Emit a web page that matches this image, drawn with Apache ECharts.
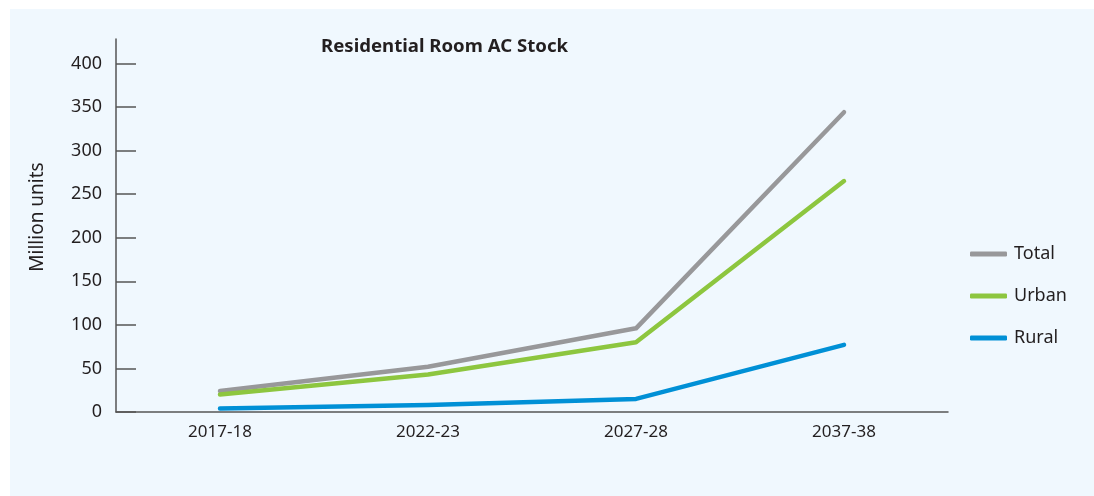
<!DOCTYPE html>
<html>
<head>
<meta charset="utf-8">
<script src="https://cdn.jsdelivr.net/npm/echarts@6/dist/echarts.min.js"></script>
<style>
html,body{margin:0;padding:0;background:#ffffff;}
#panel{position:absolute;left:10px;top:9px;width:1084px;height:487px;background:#f0f8fe;}
#chart{position:absolute;left:0;top:0;width:1094px;height:496px;}
</style>
</head>
<body>
<div id="panel"></div>
<div id="chart"></div>
<script>
const categories = ['2017-18', '2022-23', '2027-28', '2037-38'];
const totalValues = [24, 52, 96, 344];
const urbanValues = [20, 43, 80, 265];
const ruralValues = [4, 8, 15, 77];
const yTicks = [0, 50, 100, 150, 200, 250, 300, 350, 400];

const FONT = '"Noto Sans", "Open Sans", sans-serif';
const chart = echarts.init(document.getElementById('chart'), null, {renderer: 'canvas'});
const mk = (name, data, color) => ({
  name, type: 'line', data, symbol: 'none', smooth: false,
  lineStyle: {color, width: 4.5, cap: 'round', join: 'round'},
  itemStyle: {color}
});
chart.setOption({
  backgroundColor: 'transparent',
  animation: false,
  title: {
    text: 'Residential Room AC Stock', left: 316, top: 32,
    textStyle: {fontFamily: FONT, fontSize: 18.6, fontWeight: 'bold', color: '#231f20'}
  },
  legend: {
    orient: 'vertical', left: 965, top: 240, itemGap: 24,
    itemWidth: 37, itemHeight: 5,
    icon: 'roundRect',
    data: ['Total', 'Urban', 'Rural'],
    textStyle: {fontFamily: FONT, fontSize: 18, color: '#231f20', padding: [0, 0, 0, 2]}
  },
  graphic: [{
    type: 'text', x: 38, y: 217, rotation: Math.PI / 2,
    style: {text: 'Million units', fontFamily: FONT, fontSize: 19, fill: '#231f20',
      align: 'center', verticalAlign: 'middle'}
  }],
  grid: {left: 116, right: 146, top: 39, bottom: 84, containLabel: false},
  xAxis: {
    type: 'category', data: categories, boundaryGap: true,
    axisLine: {lineStyle: {color: '#555', width: 1.5}},
    axisTick: {inside: true, length: 8, lineStyle: {color: '#555', width: 1.5}},
    axisLabel: {fontFamily: FONT, fontSize: 17, color: '#231f20', margin: 12}
  },
  yAxis: {
    type: 'value', min: 0, max: 428, interval: 50,
    axisLine: {show: true, lineStyle: {color: '#555', width: 1.5}},
    axisTick: {show: true, inside: true, length: 20, customValues: yTicks, lineStyle: {color: '#555', width: 1.5}},
    axisLabel: {fontFamily: FONT, fontSize: 18, color: '#231f20', margin: 14, customValues: yTicks},
    splitLine: {show: false}
  },
  series: [
    mk('Total', totalValues, '#98989a'),
    mk('Urban', urbanValues, '#8dc63f'),
    mk('Rural', ruralValues, '#0090d6')
  ]
});
</script>
</body>
</html>
